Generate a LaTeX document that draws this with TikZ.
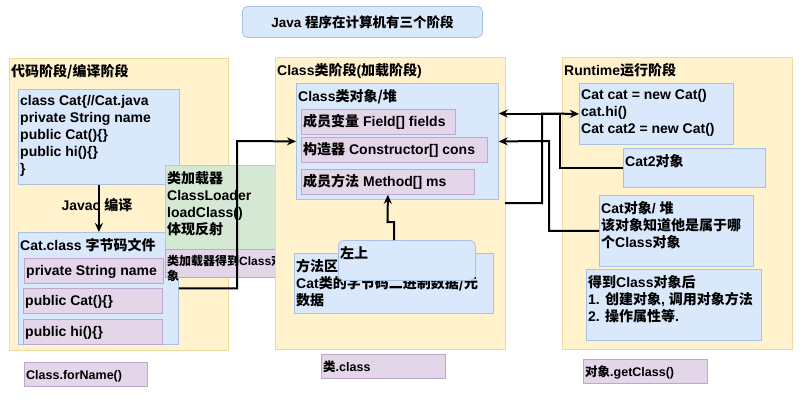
\documentclass[tikz,border=0pt]{standalone}
\usepackage{fontspec}
\setmainfont{Liberation Sans}
\newfontfamily\zhfont{Noto Sans CJK SC}
\newcommand{\zh}[1]{{\zhfont #1}}
\usetikzlibrary{arrows.meta,positioning}
\definecolor{panelfill}{HTML}{FFF2CC}
\definecolor{panelline}{HTML}{EED9A2}
\definecolor{bluefill}{HTML}{DAE8FC}
\definecolor{blueline}{HTML}{A9C1E2}
\definecolor{pinkfill}{HTML}{E4D6E9}
\definecolor{pinkline}{HTML}{BFA6CB}
\definecolor{greenfill}{HTML}{D5E8D4}
\definecolor{greenline}{HTML}{B7D3AE}

\begin{document}
\begin{tikzpicture}[x=1pt, y=-1pt,
    box/.style={draw, anchor=north west, inner sep=0pt, line width=0.8pt},
    panel/.style={box, fill=panelfill, draw=panelline},
    bluebox/.style={box, fill=bluefill, draw=blueline},
    pinkbox/.style={box, fill=pinkfill, draw=pinkline},
    greenbox/.style={box, fill=greenfill, draw=greenline},
    txt/.style={inner sep=0pt, align=left, anchor=base west, font=\bfseries\fontsize{14}{17}\selectfont},
    toptxt/.style={txt, anchor=north west, execute at begin node={\rule{0pt}{12.5pt}}, xshift=2pt, yshift=-6pt},
    midtxt/.style={txt, xshift=2pt, yshift=-5pt},
    smalltxt/.style={font=\bfseries\fontsize{12.5}{15}\selectfont},
    arr/.style={-{Stealth[length=9pt, width=8pt]}, line width=2pt}]

    \fill[white] (0,0) rectangle (802,402);
    \useasboundingbox (0,0) rectangle (802,402);

    % Title
    \node[bluebox, rounded corners=5pt, minimum width=240pt, minimum height=31pt,
          font=\bfseries\fontsize{13.5}{16}\selectfont] (title) at (242,6) {Java \zh{程序在计算机有三个阶段}};

    % Source stage
    \node[panel, minimum width=219pt, minimum height=292pt] (codep) at (9,58) {};
    \node[toptxt] (codepT) at (codep.north west) {\zh{代码阶段/编译阶段}};
    \node[bluebox, minimum width=161pt, minimum height=95pt] (src) at (18,89) {};
    \node[toptxt] (srcT) at (src.north west) {class Cat\{//Cat.java\\private String name\\public Cat()\{\}\\public hi()\{\}\\\}};
    \node[bluebox, minimum width=160pt, minimum height=112pt] (bytec) at (18,232) {};
    \node[toptxt] (bytecT) at (bytec.north west) {Cat.class \zh{字节码文件}};
    \node[pinkbox, minimum width=139pt, minimum height=25pt] (pname) at (24,258) {};
    \node[midtxt] (pnameT) at (pname.west) {private String name};
    \node[pinkbox, minimum width=139pt, minimum height=25pt] (pctor) at (23,288) {};
    \node[midtxt] (pctorT) at (pctor.west) {public Cat()\{\}};
    \node[pinkbox, minimum width=139pt, minimum height=25pt] (phi) at (23,319) {};
    \node[midtxt] (phiT) at (phi.west) {public hi()\{\}};
    \node[pinkbox, minimum width=123pt, minimum height=24pt] (forname) at (24,362) {};
    \node[midtxt, smalltxt] (fornameT) at (forname.west) {Class.forName()};

    % Class loader
    \node[greenbox, minimum width=128pt, minimum height=84pt] (loader) at (165,165) {};
    \node[toptxt] (loaderT) at (loader.north west) {\zh{类加载器}\\ClassLoader\\loadClass()\\\zh{体现反射}};
    \node[pinkbox, minimum width=122pt, minimum height=28pt] (loaded) at (165,249) {};
    \node[toptxt, font=\bfseries\fontsize{12}{15}\selectfont] (loadedT) at (loaded.north west) {\zh{类加载器得到}Class\zh{对}\\\zh{象}};

    % Class stage
    \node[panel, minimum width=230pt, minimum height=292pt] (classp) at (275,57) {};
    \node[toptxt] (classpT) at (classp.north west) {Class\zh{类阶段}(\zh{加载阶段})};
    \node[bluebox, minimum width=202pt, minimum height=116pt] (heap) at (296,83) {};
    \node[toptxt] (heapT) at (heap.north west) {Class\zh{类对象/堆}};
    \node[pinkbox, minimum width=154pt, minimum height=25pt] (fields) at (301,109) {};
    \node[midtxt] (fieldsT) at (fields.west) {\zh{成员变量} Field[] fields};
    \node[pinkbox, minimum width=186pt, minimum height=25pt] (cons) at (301,137) {};
    \node[midtxt] (consT) at (cons.west) {\zh{构造器} Constructor[] cons};
    \node[pinkbox, minimum width=173pt, minimum height=25pt] (ms) at (301,169) {};
    \node[midtxt] (msT) at (ms.west) {\zh{成员方法} Method[] ms};
    \node[bluebox, minimum width=199pt, minimum height=60pt] (metharea) at (294,253) {};
    \node[toptxt] (methareaT) at (metharea.north west) {\zh{方法区}\\Cat\zh{类的字节码二进制数据/元}\\\zh{数据}};
    \node[bluebox, rounded corners=6pt, minimum width=137pt, minimum height=40pt] (zs) at (338,240) {};
    \node[toptxt] (zsT) at (zs.north west) {\zh{左上}};
    \node[pinkbox, minimum width=124pt, minimum height=24pt] (dotclass) at (321,354) {};
    \node[midtxt, smalltxt] (dotclassT) at (dotclass.west) {\zh{类}.class};

    % Runtime stage
    \node[panel, minimum width=230pt, minimum height=292pt] (runp) at (562,57) {};
    \node[toptxt] (runpT) at (runp.north west) {Runtime\zh{运行阶段}};
    \node[bluebox, minimum width=154pt, minimum height=61pt] (runcode) at (579,83) {};
    \node[toptxt] (runcodeT) at (runcode.north west) {Cat cat = new Cat()\\cat.hi()\\Cat cat2 = new Cat()};
    \node[bluebox, minimum width=142pt, minimum height=39pt] (cat2) at (623,148) {};
    \node[toptxt] (cat2T) at (cat2.north west) {Cat2\zh{对象}};
    \node[bluebox, minimum width=154pt, minimum height=71pt] (catobj) at (599,195) {};
    \node[toptxt] (catobjT) at (catobj.north west) {Cat\zh{对象}/ \zh{堆}\\\zh{该对象知道他是属于哪}\\\zh{个}Class\zh{对象}};
    \node[bluebox, minimum width=175pt, minimum height=71pt] (after) at (586,269) {};
    \node[toptxt] (afterT) at (after.north west) {\zh{得到}Class\zh{对象后}\\1. \zh{创建对象}, \zh{调用对象方法}\\2. \zh{操作属性等}.};
    \node[pinkbox, minimum width=124pt, minimum height=24pt] (getcls) at (583,359) {};
    \node[midtxt, smalltxt] (getclsT) at (getcls.west) {\zh{对象}.getClass()};

    % Connectors
    \node[txt, anchor=base] (javac) at (97,210) {Javac \zh{编译}};
    \draw[arr] (src.south) -- (src.south |- bytec.north);

    \coordinate (ldBend) at (237,141);
    \draw[arr] (bytec.east) -| (ldBend) -- (heap.west);

    \coordinate (zsOut) at (394,240);
    \coordinate (zsJog) at (387.5,222);
    \draw[arr] (zsOut) |- (zsJog) -- (ms.south);

    \coordinate (hpOut) at (505,203);
    \coordinate (busA) at (542,113.5);
    \coordinate (busB) at (560,113.5);
    \coordinate (busC) at (549,141);
    \draw[arr] (hpOut) -| (busA) -- (runcode.west);
    \draw[arr] (cat2.west) -| (busB) -- (heap.east |- busB);
    \draw[arr] (catobj.west) -| (busC) -- (heap.east);
\end{tikzpicture}
\end{document}
